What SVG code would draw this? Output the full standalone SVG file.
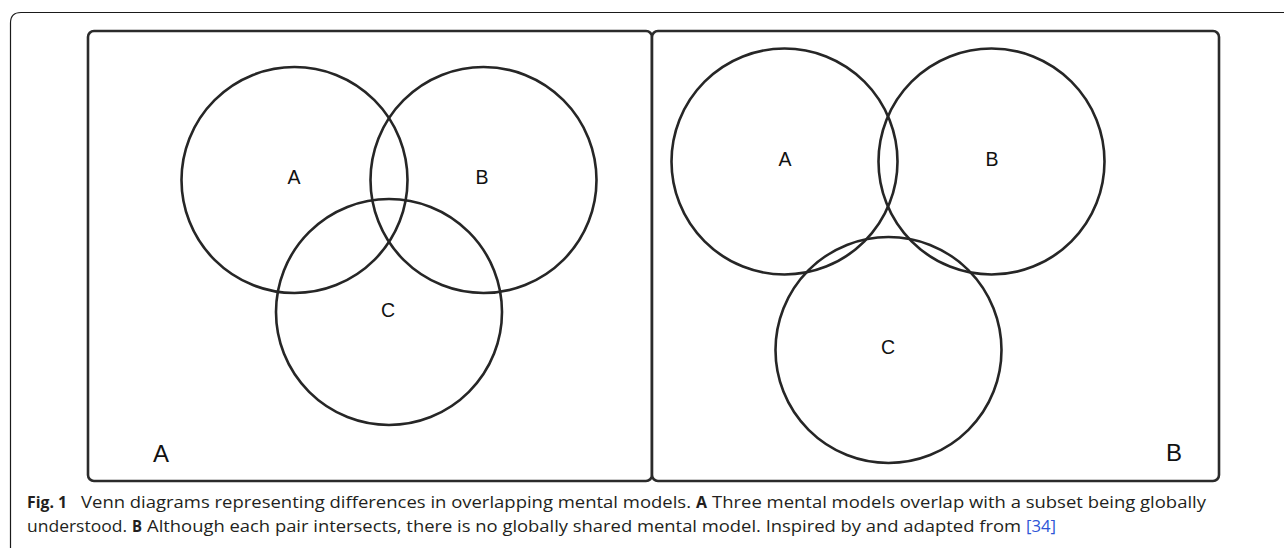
<svg xmlns="http://www.w3.org/2000/svg" width="1284" height="548" viewBox="0 0 1284 548">
  <style>
    .frame { fill: none; stroke: #1a1a1a; stroke-width: 1.2; }
    .panel { fill: #ffffff; stroke: #2b2b2b; stroke-width: 2.6; }
    .set { fill: none; stroke: #262626; stroke-width: 2.6; }
    .lbl { font-family: "Liberation Sans", Arial, sans-serif; fill: #111111; text-anchor: middle; }
    .cl { font-size: 19.5px; }
    .pl { font-size: 24px; }
    .cap { font-family: "Open Sans", "Liberation Sans", sans-serif; font-size: 16px; fill: #231f20; }
    .b { font-weight: bold; }
    .ref { fill: #2e55d6; }
  </style>
  <rect x="0" y="0" width="1284" height="548" fill="#ffffff"/>
  <path class="frame" d="M10.5 548 V23 Q10.5 12.5 21 12.5 H1284"/>

  <g id="panelA">
    <rect class="panel" x="88" y="31" width="564" height="450" rx="6" ry="6"/>
    <g id="panelA-setA">
      <circle class="set" cx="294.5" cy="180" r="113"/>
      <text class="lbl cl" x="294" y="184">A</text>
    </g>
    <g id="panelA-setB">
      <circle class="set" cx="483.5" cy="180" r="113"/>
      <text class="lbl cl" x="482" y="184">B</text>
    </g>
    <g id="panelA-setC">
      <circle class="set" cx="389" cy="312" r="113"/>
      <text class="lbl cl" x="388" y="317">C</text>
    </g>
    <text class="lbl pl" x="161" y="462">A</text>
  </g>

  <g id="panelB">
    <rect class="panel" x="652" y="31" width="567" height="450" rx="6" ry="6"/>
    <g id="panelB-setA">
      <circle class="set" cx="784.5" cy="161.5" r="113"/>
      <text class="lbl cl" x="785" y="166">A</text>
    </g>
    <g id="panelB-setB">
      <circle class="set" cx="991.5" cy="161.5" r="113"/>
      <text class="lbl cl" x="992" y="166">B</text>
    </g>
    <g id="panelB-setC">
      <circle class="set" cx="888.5" cy="350" r="113"/>
      <text class="lbl cl" x="888" y="354">C</text>
    </g>
    <text class="lbl pl" x="1174" y="461">B</text>
  </g>

  <g id="connectors"></g>

  <g id="caption">
    <text class="cap b" x="27" y="507.5" textLength="40" lengthAdjust="spacingAndGlyphs">Fig. 1</text>
    <text class="cap" x="81" y="507.5" textLength="610" lengthAdjust="spacingAndGlyphs">Venn diagrams representing differences in overlapping mental models.</text>
    <text class="cap b" x="696" y="507.5" textLength="11" lengthAdjust="spacingAndGlyphs">A</text>
    <text class="cap" x="712" y="507.5" textLength="494" lengthAdjust="spacingAndGlyphs">Three mental models overlap with a subset being globally</text>
    <text class="cap" x="27" y="531.5" textLength="100" lengthAdjust="spacingAndGlyphs">understood.</text>
    <text class="cap b" x="132" y="531.5" textLength="10" lengthAdjust="spacingAndGlyphs">B</text>
    <text class="cap" x="147" y="531.5" textLength="874" lengthAdjust="spacingAndGlyphs">Although each pair intersects, there is no globally shared mental model. Inspired by and adapted from</text>
    <text class="cap ref" x="1026" y="531.5" textLength="30" lengthAdjust="spacingAndGlyphs">[34]</text>
  </g>
</svg>
